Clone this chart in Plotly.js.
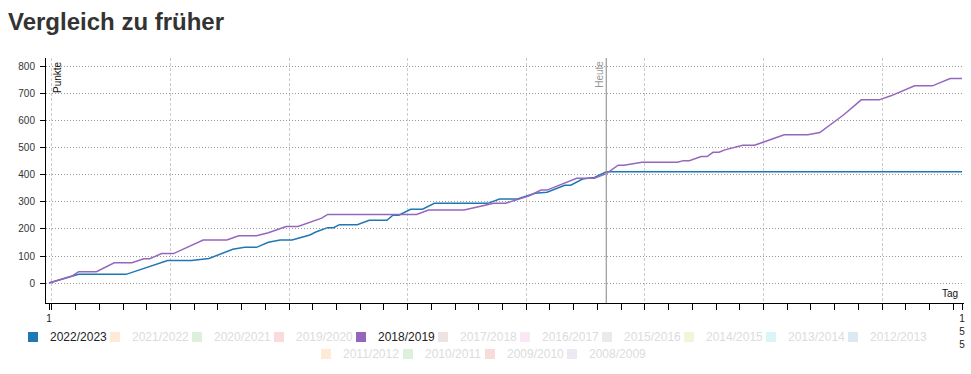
<!DOCTYPE html>
<html>
<head>
<meta charset="utf-8">
<script src="https://cdn.plot.ly/plotly-3.0.1.min.js"></script>
<style>html,body{margin:0;padding:0;background:#fff;}#chart{width:971px;height:374px;}</style>
</head>
<body>
<div id="chart"></div>
<script>
// ---- data ----
const TITLE = 'Vergleich zu früher';
const SEASONS = ['2022/2023','2021/2022','2020/2021','2019/2020','2018/2019','2017/2018','2016/2017','2015/2016','2014/2015','2013/2014','2012/2013','2011/2012','2010/2011','2009/2010','2008/2009'];
const ACTIVE = ['2022/2023','2018/2019'];
const PALETTE = ['#1f77b4','#ff7f0e','#2ca02c','#d62728','#9467bd','#8c564b','#e377c2','#7f7f7f','#bcbd22','#17becf'];

const BLUE_DAYS = [1,5,6,14,17,18,21,25,28,32,34,36,38,40,42,45,46,48,49,50,53,55,58,59,60,62,64,66,75,77,80,83,85,88,89,91,93,95,155];
const BLUE_PTS  = [0,26,32,32,54,60,83,83,91,125,132,132,151,159,159,178,189,205,205,216,216,232,232,251,251,273,273,295,295,311,311,332,336,362,362,385,391,412,412];

const PURPLE_DAYS = [1,5,6,9,12,15,17,18,20,22,27,31,33,36,38,41,43,47,48,63,65,71,74,76,78,82,84,85,90,93,95,97,98,101,107,108,109,111,112,113,114,115,118,120,125,129,131,134,135,138,141,143,147,150,153,155];
const PURPLE_PTS  = [0,27,42,42,75,75,90,90,109,109,159,159,175,175,186,209,209,240,254,254,270,270,285,295,295,323,344,344,388,388,405,436,436,447,447,453,453,468,468,484,484,493,510,510,549,549,557,607,622,678,678,693,730,730,757,757];

const TODAY_DAY = 95;
const FIRST_DAY = 1, LAST_DAY = 155;
const Y_TICKS = [0,100,200,300,400,500,600,700,800];

// ---- build ----
function hexToRgba(h,a){const n=parseInt(h.slice(1),16);return `rgba(${(n>>16)&255},${(n>>8)&255},${n&255},${a})`;}
const FONT = 'Liberation Sans, Arial, sans-serif';
const W = 971, H = 374, M = {l:46,r:7,t:58,b:71};
const PW = W - M.l - M.r, PH = H - M.t - M.b;
const px2paperX = p => (p - M.l) / PW;
const px2paperY = p => (H - M.b - p) / PH;

const traces = [];
traces.push({x:BLUE_DAYS,y:BLUE_PTS,type:'scatter',mode:'lines',line:{color:PALETTE[0],width:1.5},name:SEASONS[0],showlegend:false,hoverinfo:'skip'});
traces.push({x:PURPLE_DAYS,y:PURPLE_PTS,type:'scatter',mode:'lines',xaxis:'x2',line:{color:PALETTE[4],width:1.5},name:SEASONS[4],showlegend:false,hoverinfo:'skip'});

// legend built from SEASONS (two centred rows)
const shapes = [{type:'line',xref:'x',yref:'paper',x0:TODAY_DAY,x1:TODAY_DAY,y0:0,y1:1,line:{color:'#a0a0a0',width:1.3}}];
const annotations = [
  {text:'Punkte',xref:'paper',yref:'paper',x:px2paperX(57),y:px2paperY(77),xanchor:'center',yanchor:'middle',textangle:-90,showarrow:false,font:{size:10,color:'#111'}},
  {text:'Heute',xref:'x',yref:'paper',x:TODAY_DAY,xshift:-7,y:px2paperY(74.5),xanchor:'center',yanchor:'middle',textangle:-90,showarrow:false,font:{size:10,color:'#999'}},
  {text:'Tag',xref:'paper',yref:'paper',x:px2paperX(960),y:0,yshift:2,xanchor:'right',yanchor:'bottom',showarrow:false,font:{size:10,color:'#111'}}
];
const ROW1 = 11, PITCH = 82;
SEASONS.forEach((s,i)=>{
  const col = PALETTE[i%PALETTE.length];
  const on = ACTIVE.includes(s);
  const row = i < ROW1 ? 0 : 1;
  const k = row === 0 ? i : i - ROW1;
  const cx = (row === 0 ? 33 : 326) + k * PITCH;
  const cy = row === 0 ? 337 : 354;
  shapes.push({type:'rect',xref:'paper',yref:'paper',x0:px2paperX(cx-5),x1:px2paperX(cx+5),y0:px2paperY(cy+5),y1:px2paperY(cy-5),
    line:{width:0},fillcolor:on?col:hexToRgba(col,0.16)});
  annotations.push({text:s,xref:'paper',yref:'paper',x:px2paperX(cx+15),y:px2paperY(cy),xanchor:'left',yanchor:'middle',showarrow:false,
    font:{family:FONT,size:12,color:on?'#222':'#dcdcdc'}});
});

const XR = [0.494,155.33];
const layout = {
  width:W,height:H,
  margin:M,
  paper_bgcolor:'#fff',plot_bgcolor:'#fff',
  font:{family:FONT,size:10,color:'#222'},
  title:{text:'<b>'+TITLE+'</b>',font:{family:FONT,size:24,color:'#333'},xref:'container',x:8/W,xanchor:'left',yref:'container',y:1-22/H,yanchor:'middle'},
  xaxis:{range:XR,showline:true,linecolor:'#000',linewidth:1,ticks:'outside',ticklen:6,tickcolor:'#000',
    tick0:1.5,dtick:20,showticklabels:false,showgrid:true,gridcolor:'#cccccc',griddash:'3px,2px',gridwidth:1,zeroline:false,
    minor:{ticks:'outside',ticklen:6,tickcolor:'#000',tick0:1.5,dtick:4,showgrid:false}},
  xaxis2:{range:XR,overlaying:'x',anchor:'y',side:'bottom',showline:false,showgrid:false,zeroline:false,
    tickmode:'array',tickvals:[FIRST_DAY,LAST_DAY],ticktext:[String(FIRST_DAY),String(LAST_DAY).split('').join('<br>')],
    ticks:'outside',ticklen:6,tickcolor:'#000',tickfont:{size:10,color:'#222'}},
  yaxis:{range:[-74,833],showline:true,linecolor:'#000',linewidth:1,ticks:'outside',ticklen:5,tickcolor:'#000',
    tickmode:'array',tickvals:Y_TICKS,tickfont:{size:10,color:'#333'},ticklabelstandoff:3,
    showgrid:true,gridcolor:'#999999',griddash:'1px,2px',gridwidth:1,zeroline:false},
  shapes:shapes,
  annotations:annotations,
  showlegend:false,
  hovermode:false
};
Plotly.newPlot('chart',traces,layout,{displayModeBar:false,staticPlot:true});
</script>
</body>
</html>
